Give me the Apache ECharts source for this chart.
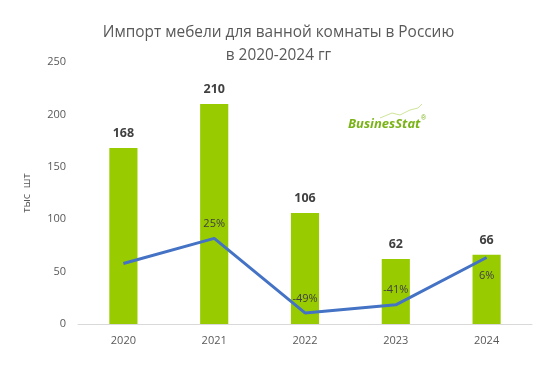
<!DOCTYPE html>
<html><head><meta charset="utf-8">
<script src="https://cdn.jsdelivr.net/npm/echarts@6/dist/echarts.min.js"></script>
<style>html,body{margin:0;padding:0;background:#fff}#c{width:557px;height:365px}</style>
</head><body><div id="c"></div>
<script>
var years = ['2020', '2021', '2022', '2023', '2024'];
var imports = [168, 210, 106, 62, 66];
var growth = [0, 25, -49, -41, 6];
var growthLabels = ['', '25%', '-49%', '-41%', '6%'];
var growthLabelPos = ['top', 'top', 'top', 'top', 'bottom'];
var yTicks = [0, 50, 100, 150, 200, 250];

var font = '"Open Sans", "Noto Sans", sans-serif';
var lineData = growth.map(function (v, i) {
  return {
    value: v,
    label: { show: growthLabels[i] !== '', formatter: growthLabels[i], position: growthLabelPos[i], distance: growthLabelPos[i] === 'bottom' ? 13 : 9 }
  };
});
var chart = echarts.init(document.getElementById('c'));
chart.setOption({
  animation: false,
  title: {
    text: 'Импорт мебели для ванной комнаты в Россию\nв 2020-2024 гг',
    left: 'center', top: 16,
    textStyle: { fontFamily: font, fontSize: 15.4, fontWeight: 'normal', color: '#595959', lineHeight: 23 }
  },
  grid: { left: 78, right: 25, top: 62, bottom: 41 },
  xAxis: {
    type: 'category', data: years,
    axisLine: { lineStyle: { color: '#d9d9d9', width: 1 } },
    axisTick: { show: false },
    axisLabel: { color: '#595959', fontFamily: font, fontSize: 11, margin: 11 }
  },
  yAxis: [{
    type: 'value', min: yTicks[0], max: yTicks[yTicks.length - 1], interval: 50,
    name: 'тыс  шт', nameLocation: 'middle', nameGap: 46, nameRotate: 90,
    nameTextStyle: { color: '#595959', fontFamily: font, fontSize: 11 },
    splitLine: { show: false },
    axisLine: { show: false }, axisTick: { show: false },
    axisLabel: { color: '#595959', fontFamily: font, fontSize: 11, margin: 12 }
  }, {
    type: 'value', min: -60, max: 200, show: false, splitLine: { show: false }
  }],
  graphic: [{
    type: 'polyline', silent: true,
    shape: { points: [[380, 118], [392, 113], [400, 115], [410, 110], [418, 108], [422, 104]] },
    style: { stroke: '#cfe59a', lineWidth: 1, fill: null }
  }, {
    type: 'text', left: 348, top: 118,
    style: { text: 'BusinesStat', fill: '#7ab317', font: 'italic bold 13px "Open Sans", sans-serif' }
  }, {
    type: 'text', left: 421, top: 115,
    style: { text: '®', fill: '#7ab317', font: '7px sans-serif' }
  }],
  series: [{
    type: 'bar', data: imports, barWidth: '31%', yAxisIndex: 0,
    itemStyle: { color: '#99cc00' },
    label: { show: true, position: 'top', distance: 8, color: '#404040', fontFamily: font, fontSize: 12.5, fontWeight: 'bold' }
  }, {
    type: 'line', data: lineData, yAxisIndex: 1, symbol: 'circle', symbolSize: 0.1, showSymbol: true,
    itemStyle: { color: '#4472c4' },
    lineStyle: { color: '#4472c4', width: 3 },
    label: { show: true, color: '#404040', fontFamily: font, fontSize: 11 }
  }]
});
</script></body></html>
